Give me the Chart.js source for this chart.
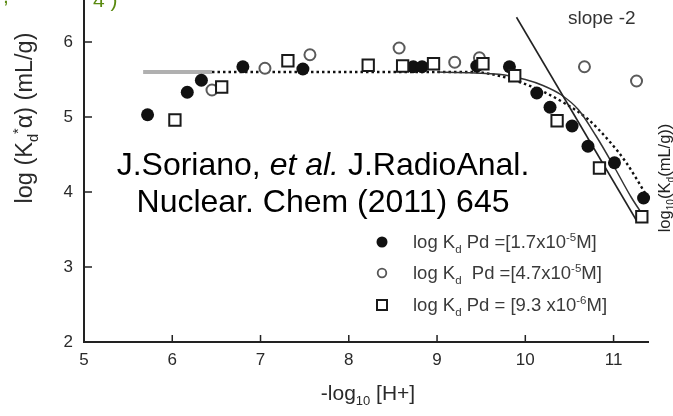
<!DOCTYPE html>
<html>
<head>
<meta charset="utf-8">
<script src="https://cdn.jsdelivr.net/npm/chart.js@4.4.1/dist/chart.umd.min.js"></script>
<style>
  html, body { margin: 0; padding: 0; background: #fff; }
  #wrap { width: 673px; height: 416px; position: relative; }
</style>
</head>
<body>
<div id="wrap"><canvas id="kdChart" width="673" height="416"></canvas></div>
<script>
// tick values
const xTicks = [5, 6, 7, 8, 9, 10, 11];
const yTicks = [2, 3, 4, 5, 6];

// log Kd, Pd = 1.7e-5 M (filled circles)
const pd17x = [5.72, 6.17, 6.33, 6.80, 7.48, 8.73, 8.83, 9.45, 9.82, 10.13, 10.28, 10.53, 10.71, 11.01, 11.34];
const pd17y = [5.03, 5.33, 5.49, 5.67, 5.64, 5.67, 5.67, 5.68, 5.67, 5.32, 5.13, 4.88, 4.61, 4.39, 3.92];
// log Kd, Pd = 4.7e-5 M (open circles)
const pd47x = [6.45, 7.05, 7.56, 8.57, 9.20, 9.48, 10.67, 11.26];
const pd47y = [5.36, 5.65, 5.83, 5.92, 5.73, 5.79, 5.67, 5.48];
// log Kd, Pd = 9.3e-6 M (open squares)
const pd93x = [6.03, 6.56, 7.31, 8.22, 8.61, 8.96, 9.52, 9.88, 10.36, 10.84, 11.32];
const pd93y = [4.96, 5.40, 5.75, 5.69, 5.68, 5.71, 5.71, 5.55, 4.95, 4.32, 3.67];

// fitted curves
const plateauX = [5.67, 6.45];
const plateauY = [5.6, 5.6];
const dottedX = [6.45, 9.4, 9.7, 9.95, 10.2, 10.45, 10.7, 10.95, 11.15, 11.36];
const dottedY = [5.6, 5.6, 5.55, 5.46, 5.34, 5.18, 4.98, 4.68, 4.38, 3.98];
const solidX = [9.0, 9.7, 10.0, 10.2, 10.4, 10.6, 10.8, 11.0, 11.2, 11.35];
const solidY = [5.6, 5.57, 5.5, 5.42, 5.3, 5.1, 4.75, 4.35, 3.93, 3.66];
const slopeX = [9.9, 11.27];
const slopeY = [6.33, 3.6];

const FONT = '"Liberation Sans", Arial, Helvetica, sans-serif';

function toPoints(xs, ys) {
    return xs.map((x, i) => ({ x: x, y: ys[i] }));
}

// draws a run of text pieces (sub/superscripts, italics) starting at x
function drawRich(ctx, parts, x, y, size, align) {
    const fontOf = p => (p.italic ? 'italic ' : '') + (size * (p.scale || 1)).toFixed(1) + 'px ' + FONT;
    let total = 0;
    parts.forEach(p => { ctx.font = fontOf(p); total += ctx.measureText(p.t).width; });
    let cx = x;
    if (align === 'center') cx = x - total / 2;
    if (align === 'right') cx = x - total;
    ctx.textAlign = 'left';
    ctx.textBaseline = 'alphabetic';
    parts.forEach(p => {
        ctx.font = fontOf(p);
        ctx.fillText(p.t, cx, y + (p.dy || 0) * size);
        cx += ctx.measureText(p.t).width;
    });
}

const sub = t => ({ t: t, scale: 0.62, dy: 0.25 });
const sup = t => ({ t: t, scale: 0.62, dy: -0.4 });

const extrasPlugin = {
    id: 'extras',
    afterDraw(chart) {
        const { ctx, chartArea, scales: { x, y } } = chart;
        ctx.save();

        // inward tick marks
        ctx.strokeStyle = '#222';
        ctx.lineWidth = 1.5;
        ctx.beginPath();
        xTicks.slice(1).forEach(v => {
            const px = x.getPixelForValue(v);
            ctx.moveTo(px, chartArea.bottom);
            ctx.lineTo(px, chartArea.bottom - 7);
        });
        yTicks.slice(1).forEach(v => {
            const py = y.getPixelForValue(v);
            ctx.moveTo(chartArea.left, py);
            ctx.lineTo(chartArea.left + 8, py);
        });
        ctx.stroke();

        // axis titles
        ctx.fillStyle = '#2a2a2a';
        drawRich(ctx, [{ t: '-log' }, sub('10'), { t: ' [H+]' }], 368, 400, 21, 'center');

        ctx.save();
        ctx.translate(32, 118);
        ctx.rotate(-Math.PI / 2);
        drawRich(ctx, [{ t: 'log (K' }, sub('d'), sup('*'), { t: 'α) (mL/g)' }], 0, 0, 23.5, 'center');
        ctx.restore();

        // clipped label at right edge
        ctx.save();
        ctx.translate(670, 178);
        ctx.rotate(-Math.PI / 2);
        ctx.fillStyle = '#222';
        drawRich(ctx, [{ t: 'log' }, sub('10'), { t: '(K' }, sub('d'), { t: '(mL/g))' }], 0, 0, 16.5, 'center');
        ctx.restore();

        // cut-off heading fragments
        ctx.fillStyle = '#5a8a10';
        ctx.font = '21px ' + FONT;
        ctx.textAlign = 'left';
        ctx.textBaseline = 'alphabetic';
        ctx.fillText('4 )', 93, 7);
        ctx.fillText(',', 3, 3);

        // citation
        ctx.fillStyle = '#000';
        drawRich(ctx, [{ t: 'J.Soriano, ' }, { t: 'et al.', italic: true }, { t: ' J.RadioAnal.' }], 323, 175, 32, 'center');
        drawRich(ctx, [{ t: 'Nuclear. Chem (2011) 645' }], 323, 212, 32, 'center');

        // slope label
        ctx.fillStyle = '#333';
        drawRich(ctx, [{ t: 'slope -2' }], 568, 24, 19, 'left');

        // legend
        const rows = [242, 273, 305];
        const mx = 382;
        ctx.fillStyle = '#111';
        ctx.beginPath();
        ctx.arc(mx, rows[0], 5.5, 0, Math.PI * 2);
        ctx.fill();
        ctx.strokeStyle = '#555';
        ctx.lineWidth = 1.8;
        ctx.beginPath();
        ctx.arc(mx, rows[1], 4.3, 0, Math.PI * 2);
        ctx.stroke();
        ctx.strokeStyle = '#1a1a1a';
        ctx.lineWidth = 2;
        ctx.strokeRect(mx - 5, rows[2] - 5, 10, 10);

        ctx.fillStyle = '#3a3a3a';
        const tx = 413, ls = 18.5;
        drawRich(ctx, [{ t: 'log K' }, sub('d'), { t: ' Pd =[1.7x10' }, sup('-5'), { t: 'M]' }], tx, rows[0] + 6, ls, 'left');
        drawRich(ctx, [{ t: 'log K' }, sub('d'), { t: '  Pd =[4.7x10' }, sup('-5'), { t: 'M]' }], tx, rows[1] + 6, ls, 'left');
        drawRich(ctx, [{ t: 'log K' }, sub('d'), { t: ' Pd = [9.3 x10' }, sup('-6'), { t: 'M]' }], tx, rows[2] + 6, ls, 'left');

        ctx.restore();
    }
};

const canvas = document.getElementById('kdChart');

new Chart(canvas, {
    type: 'scatter',
    data: {
        datasets: [
            {
                label: 'log Kd Pd =[9.3x10-6M]',
                data: toPoints(pd93x, pd93y),
                pointStyle: 'rect',
                pointRadius: 8,
                backgroundColor: '#fff',
                borderColor: '#1a1a1a',
                borderWidth: 2,
                clip: false,
                order: 0
            },
            {
                label: 'log Kd Pd =[1.7x10-5M]',
                data: toPoints(pd17x, pd17y),
                pointStyle: 'circle',
                pointRadius: 6.5,
                backgroundColor: '#111',
                borderColor: '#111',
                borderWidth: 0,
                clip: false,
                order: 1
            },
            {
                label: 'log Kd Pd =[4.7x10-5M]',
                data: toPoints(pd47x, pd47y),
                pointStyle: 'circle',
                pointRadius: 5.5,
                backgroundColor: '#fff',
                borderColor: '#5a5a5a',
                borderWidth: 2,
                clip: false,
                order: 2
            },
            {
                label: 'slope -2',
                data: toPoints(slopeX, slopeY),
                showLine: true,
                pointRadius: 0,
                borderColor: '#222',
                borderWidth: 1.6,
                clip: false,
                order: 3
            },
            {
                label: 'fit solid',
                data: toPoints(solidX, solidY),
                showLine: true,
                cubicInterpolationMode: 'monotone',
                pointRadius: 0,
                borderColor: '#333',
                borderWidth: 1.5,
                clip: false,
                order: 4
            },
            {
                label: 'fit dotted',
                data: toPoints(dottedX, dottedY),
                showLine: true,
                cubicInterpolationMode: 'monotone',
                pointRadius: 0,
                borderColor: '#111',
                borderWidth: 2.4,
                borderDash: [2.5, 3],
                clip: false,
                order: 5
            },
            {
                label: 'plateau',
                data: toPoints(plateauX, plateauY),
                showLine: true,
                pointRadius: 0,
                borderColor: '#b0b0b0',
                borderWidth: 4,
                clip: false,
                order: 6
            }
        ]
    },
    options: {
        responsive: false,
        animation: false,
        events: [],
        layout: { autoPadding: false, padding: { left: 0, right: 25, top: 0, bottom: 0 } },
        plugins: {
            legend: { display: false },
            tooltip: { enabled: false }
        },
        scales: {
            x: {
                type: 'linear',
                min: 5,
                max: 11.39,
                afterBuildTicks: s => { s.ticks = xTicks.map(v => ({ value: v })); },
                afterFit: s => {
                    s.height = 74;
                    s.paddingLeft = 0;
                    s.paddingRight = 0;
                },
                grid: { display: true, drawOnChartArea: false, drawTicks: false },
                border: { display: true, color: '#222', width: 2 },
                ticks: {
                    padding: 8,
                    color: '#2a2a2a',
                    font: { family: FONT, size: 17 },
                    maxRotation: 0,
                    autoSkip: false
                }
            },
            y: {
                type: 'linear',
                min: 2,
                max: 6.56,
                afterBuildTicks: s => { s.ticks = yTicks.map(v => ({ value: v })); },
                afterFit: s => {
                    s.width = 84;
                    s.paddingTop = 0;
                    s.paddingBottom = 0;
                },
                grid: { display: true, drawOnChartArea: false, drawTicks: false },
                border: { display: true, color: '#222', width: 2 },
                ticks: {
                    padding: 11,
                    color: '#2a2a2a',
                    font: { family: FONT, size: 17 },
                    autoSkip: false
                }
            }
        }
    },
    plugins: [extrasPlugin]
});
</script>
</body>
</html>
